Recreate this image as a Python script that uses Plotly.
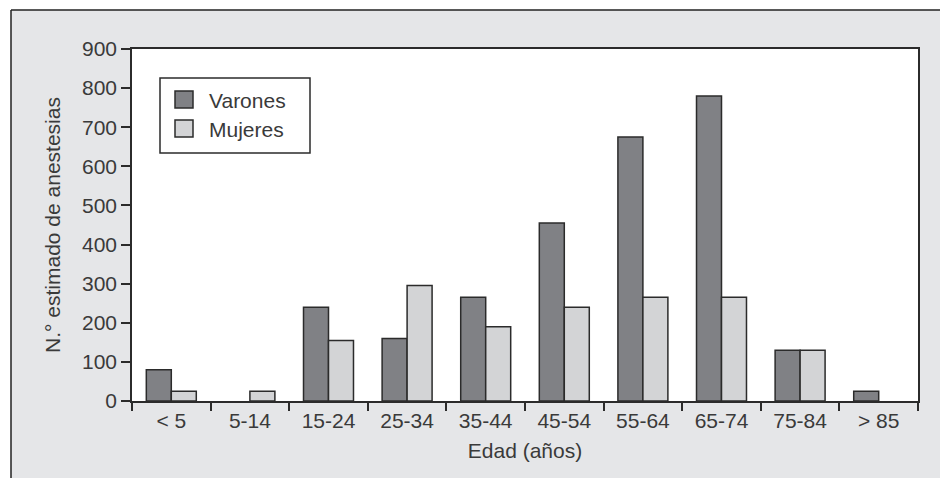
import plotly.graph_objects as go

categories = ["< 5", "5-14", "15-24", "25-34", "35-44", "45-54", "55-64", "65-74", "75-84", "> 85"]
varones = [80, 0, 240, 160, 265, 455, 675, 780, 130, 25]
mujeres = [25, 25, 155, 295, 190, 240, 265, 265, 130, 0]
y_ticks = [0, 100, 200, 300, 400, 500, 600, 700, 800, 900]
series_names = ["Varones", "Mujeres"]
series_colors = ["#808185", "#d3d4d6"]

TEXT = "#3a3a3a"
LINE = "#2b2b2b"
FONT = "Liberation Sans, Arial, sans-serif"
FS = 21

fig = go.Figure()
for name, vals, col in zip(series_names, [varones, mujeres], series_colors):
    fig.add_trace(go.Bar(name=name, x=categories, y=[v if v > 0 else None for v in vals],
                         showlegend=False,
                         marker=dict(color=col, line=dict(color=LINE, width=1.5))))

# page body has an 8px margin, so figure coords = screen coords - 8
OFF = 8
W, H = 948 - OFF, 478 - OFF
L, R, T, B = 132 - OFF, 30, 49 - OFF, 77
pw, ph = W - L - R, H - T - B

def px(xs):
    return (xs - OFF - L) / pw

def py(ys):
    return (H - B - (ys - OFF)) / ph

shapes = [
    dict(type="rect", xref="paper", yref="paper", x0=px(-20), x1=px(980), y0=py(10), y1=py(-20),
         fillcolor="white", line=dict(width=0), layer="below"),
    dict(type="rect", xref="paper", yref="paper", x0=px(-20), x1=px(11), y0=py(500), y1=py(-20),
         fillcolor="white", line=dict(width=0), layer="below"),
    dict(type="line", xref="paper", yref="paper", x0=px(11), x1=px(980), y0=py(10), y1=py(10),
         line=dict(color="#222222", width=1.5)),
    dict(type="line", xref="paper", yref="paper", x0=px(11), x1=px(11), y0=py(10), y1=py(500),
         line=dict(color="#222222", width=1.5)),
    # legend box
    dict(type="rect", xref="paper", yref="paper", x0=px(160), x1=px(310), y0=py(78), y1=py(153),
         fillcolor="white", line=dict(color=LINE, width=1.5)),
]
annotations = []
for i, (name, col) in enumerate(zip(series_names, series_colors)):
    yc = 100 + 29 * i
    shapes.append(dict(type="rect", xref="paper", yref="paper", x0=px(175), x1=px(193),
                       y0=py(yc - 9), y1=py(yc + 8), fillcolor=col, line=dict(color=LINE, width=1.5)))
    annotations.append(dict(xref="paper", yref="paper", x=px(207), y=py(yc), text=name,
                            showarrow=False, xanchor="left", yanchor="middle",
                            font=dict(size=FS, color=TEXT, family=FONT)))

fig.update_layout(
    width=W, height=H,
    margin=dict(l=L, r=R, t=T, b=B),
    paper_bgcolor="#e5e6e8",
    plot_bgcolor="white",
    barmode="group",
    bargap=0.364,
    bargroupgap=0,
    font=dict(family=FONT, size=FS, color=TEXT),
    shapes=shapes,
    annotations=annotations,
    showlegend=False,
    xaxis=dict(type="category", tickson="boundaries", ticks="outside", ticklen=8,
               tickcolor=LINE, tickwidth=1.5, showline=True, linecolor=LINE, linewidth=1.5,
               mirror=True, showgrid=False,
               title=dict(text="Edad (años)", standoff=12, font=dict(size=FS, color=TEXT))),
    yaxis=dict(range=[0, 900], tickvals=y_ticks, ticks="outside", ticklen=9,
               tickcolor=LINE, tickwidth=1.5, showline=True, linecolor=LINE, linewidth=1.5,
               mirror=True, showgrid=False, zeroline=False,
               title=dict(text="N.° estimado de anestesias", standoff=16, font=dict(size=FS, color=TEXT))),
)

fig.write_html("out.html")
